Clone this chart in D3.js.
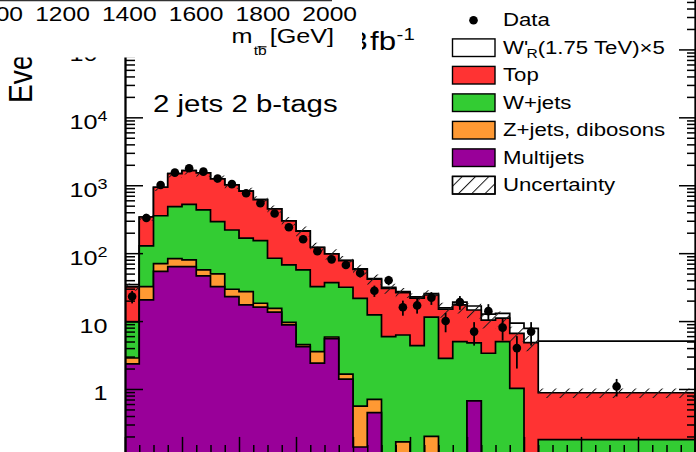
<!DOCTYPE html>
<html>
<head>
<meta charset="utf-8">
<script src="https://cdn.jsdelivr.net/npm/d3@7"></script>
<style>
  body { margin: 0; background: #fff; }
  svg { display: block; }
  text { font-family: "Liberation Sans", Arial, Helvetica, sans-serif; fill: #000; }
</style>
</head>
<body>
<svg id="chart" width="696" height="452"></svg>
<script>
// ---- data: m_tb distribution, 2 jets 2 b-tags (events per 50 GeV) ----
const binEdges = [0, 50, 100, 150, 200, 250, 300, 350, 400, 450, 500, 550, 600, 650, 700,
  750, 800, 850, 900, 950, 1000, 1050, 1100, 1150, 1200, 1250, 1300, 1350, 1400, 1450, 2000];

const multijets = [2.34, 20.5, 53.8, 63.3, 63.3, 46.2, 32.1, 22.9, 17.3, 16.0, 13.5, 8.8, 4.2, 2.4, 5.5,
  1.40, 0.14, 0.45, 0, 0, 0, 0, 0, 0, 0.67, 0, 0, 0, 0, 0];
const zjetsDibosons = [0.52, 11.6, 16.2, 19.7, 16.1, 10.4, 17.3, 6.5, 9.8, 2.3, 1.9, 0.8, 0.3, 1.14, 0.33,
  0.26, 0.42, 0.255, 0, 0.166, 0, 0.2, 0, 0, 0, 0, 0, 0, 0, 0];
const wjets = [6.84, 95.6, 285.6, 401, 442, 376, 242, 190, 139, 135, 68.7, 57.4, 52.1, 28.6, 31.0,
  29.8, 21.1, 11.6, 5.89, 6.07, 4.34, 11.2, 2.83, 4.97, 4.09, 3.36, 4.97, 1.02, 0, 0.18];
const topQuark = [22.1, 213, 579, 998, 1120, 1085, 947, 790, 653, 461, 364, 231, 155, 89, 60.5,
  46.1, 36.2, 29.0, 24.5, 20.0, 17.4, 12.8, 12.1, 12.3, 9.8, 7.0, 6.1, 5.59, 4.81, 0.70];
const wprimeX5 = [2.5, 0.3, 0.4, 0.5, 0.5, 0.5, 0.5, 0.5, 0.5, 0.5, 0.5, 0.6, 0.6, 0.6, 0.7,
  0.7, 0.8, 0.8, 0.9, 0.9, 1.0, 1.2, 0.7, 1.8, 2.1, 2.3, 1.9, 2.7, 3.0, 4.2];
const dataCounts = [23, 330, 1010, 1534, 1779, 1586, 1259, 1038, 762, 543, 384, 241, 160, 107, 81,
  67, 51, 28, 40, 16, 17, 22, 10, 19, 7, 14, 8, 4, 7, 12];
const bkgRelUnc = [0.12, 0.12, 0.12, 0.12, 0.12, 0.12, 0.12, 0.12, 0.12, 0.12, 0.12, 0.14, 0.17, 0.17, 0.17,
  0.17, 0.17, 0.17, 0.17, 0.17, 0.17, 0.17, 0.25, 0.25, 0.25, 0.25, 0.25, 0.25, 0.25, 0.16];

const yMajorTicks = [1, 10, 100, 1000, 10000, 100000];
const upperAxisTicks = [1000, 1200, 1400, 1600, 1800, 2000];
const legendLabels = ["Data", "W'R(1.75 TeV)×5", "Top", "W+jets", "Z+jets, dibosons", "Multijets", "Uncertainty"];

const COLORS = { signal: "#ffffff", top: "#ff3333", wjets: "#33cc33", zjets: "#ff9933", multijets: "#990099" };
const SX = 1.2;          // horizontal stretch of the lettering
const REF_WIDTH = 50;    // GeV per normalised bin

const svg = d3.select("#chart");

// ---- scales ----
const x = d3.scaleLinear().domain([0, 2000]).range([125, 695]);
const y = d3.scaleLog().domain([0.1, 1e6]).range([456.9, -18.5]);
const yFloor = y(0.03);

const defs = svg.append("defs");
defs.append("clipPath").attr("id", "plotClip")
  .append("rect").attr("x", 125).attr("y", -20).attr("width", 570).attr("height", 476.9);
defs.append("pattern").attr("id", "hatch")
  .attr("patternUnits", "userSpaceOnUse").attr("width", 9.4).attr("height", 9.4)
  .attr("patternTransform", "rotate(45)")
  .append("line").attr("x1", 0).attr("y1", 0).attr("x2", 0).attr("y2", 9.4)
  .attr("stroke", "#1a1a1a").attr("stroke-width", 2.0);

// ---- stacked histogram ----
const rows = binEdges.slice(0, -1).map((lo, i) => ({
  lo, hi: binEdges[i + 1],
  multijets: multijets[i], zjets: zjetsDibosons[i], wjets: wjets[i], top: topQuark[i], signal: wprimeX5[i],
  data: dataCounts[i], unc: bkgRelUnc[i]
}));
const keys = ["multijets", "zjets", "wjets", "top", "signal"];
const stacked = d3.stack().keys(keys)(rows);

const plot = svg.append("g").attr("clip-path", "url(#plotClip)");

const stepArea = d3.area()
  .x(p => x(p.x))
  .y0(yFloor)
  .y1(p => y(Math.max(p.v, 0.03)));

// cumulative histograms, drawn from the top of the stack downwards
for (let k = keys.length - 1; k >= 0; k--) {
  const layer = stacked[k];
  const pts = rows.flatMap((r, i) => [{ x: r.lo, v: layer[i][1] }, { x: r.hi, v: layer[i][1] }]);
  plot.append("path")
    .attr("d", stepArea(pts))
    .attr("fill", COLORS[keys[k]])
    .attr("stroke", "#000")
    .attr("stroke-width", 1.7)
    .attr("stroke-linejoin", "miter");
}

// background uncertainty band
const bandPts = rows.flatMap(r => {
  const tot = r.multijets + r.zjets + r.wjets + r.top;
  return [{ x: r.lo, tot, u: r.unc }, { x: r.hi, tot, u: r.unc }];
});
plot.append("path")
  .attr("d", d3.area().x(p => x(p.x))
    .y0(p => y(p.tot * (1 - p.u))).y1(p => y(p.tot * (1 + p.u)))(bandPts))
  .attr("fill", "url(#hatch)")
  .attr("stroke", "none");

// data points with Poisson errors, normalised to 50 GeV
const pts = plot.append("g");
rows.forEach(r => {
  const w = (r.hi - r.lo) / REF_WIDTH;
  const val = r.data / w;
  const err = Math.sqrt(r.data) / w;
  const cx = x((r.lo + r.hi) / 2);
  pts.append("line")
    .attr("x1", cx).attr("x2", cx)
    .attr("y1", y(Math.max(val - err, 0.02))).attr("y2", y(val + err))
    .attr("stroke", "#000").attr("stroke-width", 1.8);
  pts.append("circle").attr("cx", cx).attr("cy", y(val)).attr("r", 4.3).attr("fill", "#000");
});

// ---- axes ----
const yMinor = d3.range(-1, 6).flatMap(n => d3.range(2, 10).map(m => m * Math.pow(10, n)));
const xMajor = d3.range(0, 2001, 200);
const xMinor = d3.range(50, 2000, 50).filter(v => v % 200 !== 0);

function styleAxis(g) {
  g.selectAll("line").attr("stroke", "#000").attr("stroke-width", 1.5);
  g.selectAll("path").attr("stroke", "#000").attr("stroke-width", 1.8);
  g.selectAll("text").remove();
}

svg.append("g").attr("transform", "translate(125,0)")
  .call(d3.axisRight(y).tickValues([...yMajorTicks, 0.1, 1e6]).tickSize(18).tickSizeOuter(0).tickFormat(""))
  .call(styleAxis);
svg.append("g").attr("transform", "translate(125,0)")
  .call(d3.axisRight(y).tickValues(yMinor).tickSize(10).tickSizeOuter(0).tickFormat(""))
  .call(styleAxis);
svg.append("g").attr("transform", "translate(695,0)")
  .call(d3.axisLeft(y).tickValues([...yMajorTicks, 0.1, 1e6]).tickSize(16).tickSizeOuter(0).tickFormat(""))
  .call(styleAxis);
svg.append("g").attr("transform", "translate(695,0)")
  .call(d3.axisLeft(y).tickValues(yMinor).tickSize(8).tickSizeOuter(0).tickFormat(""))
  .call(styleAxis);
svg.append("g").attr("transform", `translate(0,${y(0.1)})`)
  .call(d3.axisTop(x).tickValues(xMajor).tickSize(20).tickSizeOuter(0).tickFormat(""))
  .call(styleAxis);
svg.append("g").attr("transform", `translate(0,${y(0.1)})`)
  .call(d3.axisTop(x).tickValues(xMinor).tickSize(12).tickSizeOuter(0).tickFormat(""))
  .call(styleAxis);

// stretched text helper
function label(parent, px, py, size, anchor, extra) {
  const g = parent.append("g").attr("transform", `translate(${px},${py}) scale(${SX},1)` + (extra || ""));
  return g.append("text").attr("font-size", size).attr("text-anchor", anchor || "start");
}

// y tick labels
yMajorTicks.forEach(v => {
  const exp = Math.round(Math.log10(v));
  const t = label(svg, 107.5, y(v) + 11.5, 21, "end");
  if (exp === 0) t.text("1");
  else if (exp === 1) t.text("10");
  else {
    t.append("tspan").text("10");
    t.append("tspan").attr("font-size", 15).attr("dy", -8).text(exp);
  }
});

// y title
label(svg, 32, 103, 28, "start", " rotate(-90)").text("Events / 50 GeV");

// region and luminosity text
label(svg, 153, 111.7, 24.5).text("2 jets 2 b-tags");
const lumi = label(svg, 367.5, 50, 26, "start");
lumi.append("tspan").attr("text-anchor", "end").text("∫L dt = 20.3");
const lumiUnit = label(svg, 370, 50, 26, "start");
lumiUnit.append("tspan").text("fb");
lumiUnit.append("tspan").attr("font-size", 17).attr("dx", 0.5).attr("dy", -10.5).text("-1");

// ---- legend ----
const legend = svg.append("g");
const rowY = i => 20.2 + 27.5 * i;
const legendFill = [null, COLORS.signal, COLORS.top, COLORS.wjets, COLORS.zjets, COLORS.multijets, "#ffffff"];
legendLabels.forEach((name, i) => {
  const cy = rowY(i);
  if (i === 0) {
    legend.append("circle").attr("cx", 473.5).attr("cy", cy).attr("r", 4.3).attr("fill", "#000");
  } else {
    legend.append("rect").attr("x", 452.5).attr("y", cy - 8.8).attr("width", 42.5).attr("height", 17.6)
      .attr("fill", legendFill[i]).attr("stroke", "#000").attr("stroke-width", 1.4);
    if (i === legendLabels.length - 1) {
      legend.append("rect").attr("x", 452.5).attr("y", cy - 8.8).attr("width", 42.5).attr("height", 17.6)
        .attr("fill", "url(#hatch)").attr("stroke", "#000").attr("stroke-width", 1.4);
    }
  }
  const t = label(legend, 503, cy + 6, 18.5);
  if (i === 1) {
    t.append("tspan").text("W'");
    t.append("tspan").attr("font-size", 13).attr("dx", -1.5).attr("dy", 4).text("R");
    t.append("tspan").attr("dy", -4).text("(1.75 TeV)×5");
  } else {
    t.text(name);
  }
});

// ---- neighbouring panel (m_tb axis) overlapping the top-left corner ----
const upper = svg.append("g");
upper.append("rect").attr("x", 0).attr("y", 0).attr("width", 362).attr("height", 57.5).attr("fill", "#fff");
const xu = d3.scaleLinear().domain([1200, 2000]).range([62.5, 329.7]);
upper.append("line").attr("x1", 0).attr("x2", 332).attr("y1", 0.6).attr("y2", 0.6)
  .attr("stroke", "#333").attr("stroke-width", 1.3);
upperAxisTicks.forEach(v => {
  label(upper, xu(v), 20.7, 20.5, "middle").text(v);
});
const mtb = label(upper, 231.5, 43.3, 21);
mtb.append("tspan").text("m");
mtb.append("tspan").attr("font-size", 13).attr("dx", 1).attr("dy", 11.5).text("tb");
mtb.append("tspan").attr("dx", 2.5).attr("dy", -11.5).text("[GeV]");
upper.append("line").attr("x1", 257.5).attr("x2", 266.5).attr("y1", 46.8).attr("y2", 46.8)
  .attr("stroke", "#000").attr("stroke-width", 1.1);
</script>
</body>
</html>
